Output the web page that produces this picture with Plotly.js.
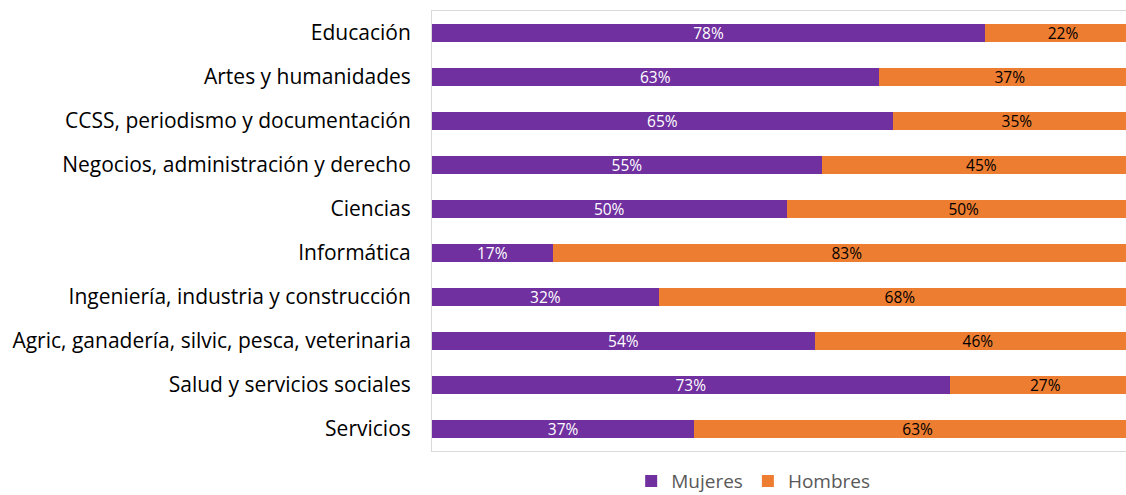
<!DOCTYPE html>
<html>
<head>
<meta charset="utf-8">
<script src="https://cdn.plot.ly/plotly-3.0.1.min.js"></script>
<style>html,body{margin:0;padding:0;background:#fff;overflow:hidden;width:1126px;height:495px;}#chart{width:1141px;height:495px;}</style>
</head>
<body>
<div id="chart"></div>
<script>
const categories = [
  "Educación",
  "Artes y humanidades",
  "CCSS, periodismo y documentación",
  "Negocios, administración y derecho",
  "Ciencias",
  "Informática",
  "Ingeniería, industria y construcción",
  "Agric, ganadería, silvic, pesca, veterinaria",
  "Salud y servicios sociales",
  "Servicios"
];
const mujeres = [78, 63, 65, 55, 50, 17, 32, 54, 73, 37];
const hombres = [22, 37, 35, 45, 50, 83, 68, 46, 27, 63];

const font = "'Open Sans', Lato, sans-serif";
const traces = [
  {
    type: "bar", orientation: "h", name: "Mujeres",
    y: categories, x: mujeres,
    text: mujeres.map(v => v + "%"), texttemplate: "%{text}",
    textposition: "inside", insidetextanchor: "middle", constraintext: "none",
    textfont: {color: "#ffffff", size: 15.5, family: font},
    marker: {color: "#7030A0"},
    hoverinfo: "skip"
  },
  {
    type: "bar", orientation: "h", name: "Hombres",
    y: categories, x: hombres,
    text: hombres.map(v => v + "%"), texttemplate: "%{text}",
    textposition: "inside", insidetextanchor: "middle", constraintext: "none",
    textfont: {color: "#000000", size: 15.5, family: font},
    marker: {color: "#ED7D31"},
    hoverinfo: "skip"
  }
];

const layout = {
  width: 1141, height: 495,
  barmode: "stack", bargap: 0.6,
  margin: {l: 432, r: 0, t: 11, b: 44, pad: 0, autoexpand: false},
  paper_bgcolor: "#ffffff", plot_bgcolor: "#ffffff",
  font: {family: font, color: "#000"},
  xaxis: {
    range: [0, 100], showticklabels: false, showgrid: false, zeroline: false,
    showline: true, mirror: true, linecolor: "#d9d9d9", linewidth: 1, fixedrange: true
  },
  yaxis: {
    autorange: "reversed", showgrid: false, zeroline: false,
    showline: true, mirror: true, linecolor: "#d9d9d9", linewidth: 1,
    ticks: "outside", ticklen: 16, tickcolor: "rgba(0,0,0,0)",
    tickfont: {size: 21, color: "#000", family: font}, fixedrange: true
  },
  showlegend: true,
  legend: {
    orientation: "h", x: 0.453, xanchor: "center",
    yref: "container", y: 0.028, yanchor: "middle",
    font: {size: 19, color: "#595959", family: font},
    traceorder: "normal", itemwidth: 30
  }
};

Plotly.newPlot("chart", traces, layout, {displayModeBar: false, staticPlot: true});
</script>
</body>
</html>
